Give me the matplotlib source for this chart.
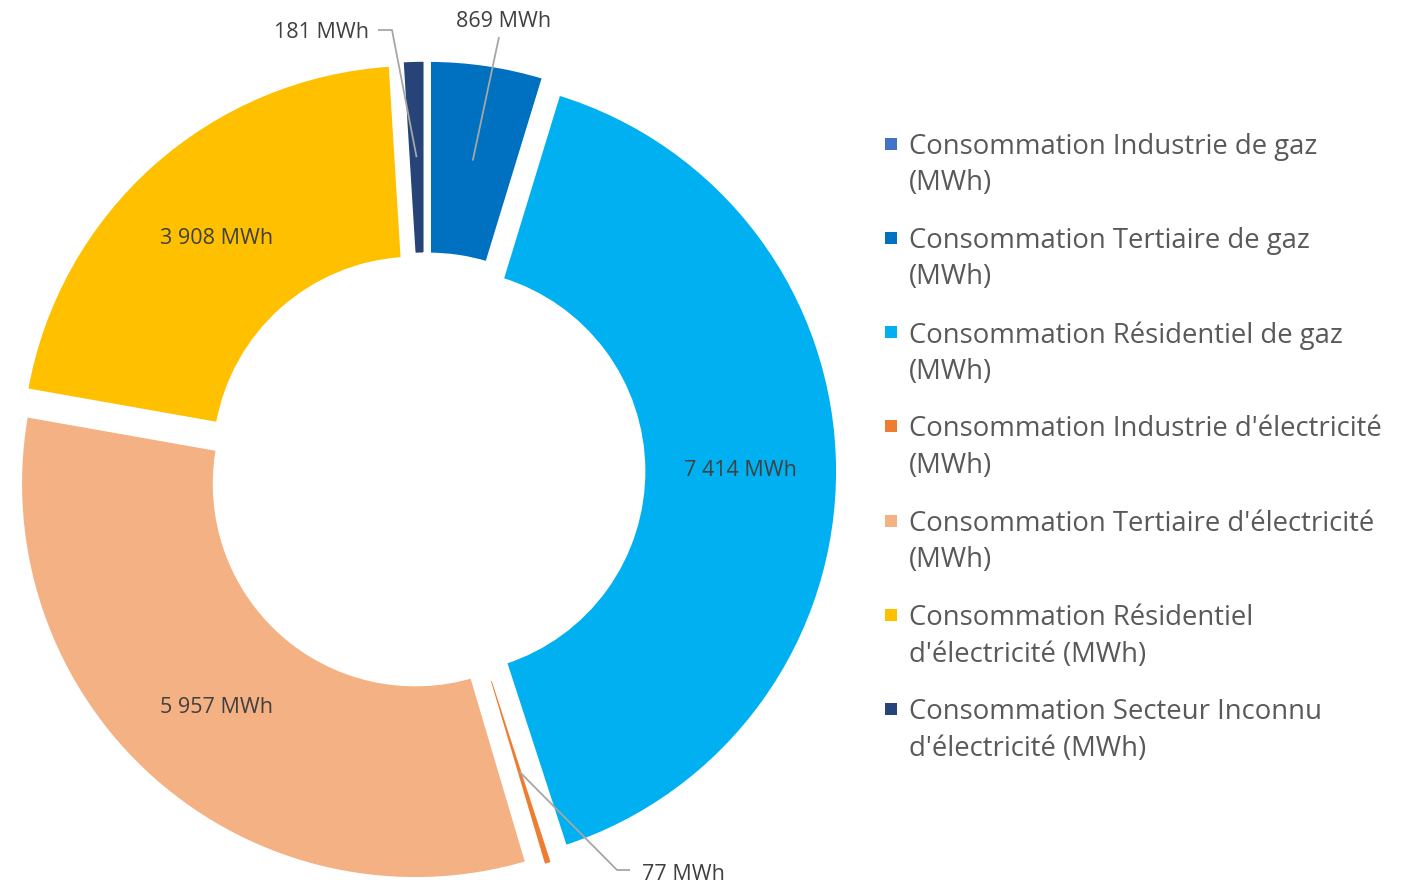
import matplotlib.pyplot as plt
import numpy as np

plt.rcParams['font.family'] = ['Open Sans', 'DejaVu Sans']

categories = [
    "Consommation Industrie de gaz\n(MWh)",
    "Consommation Tertiaire de gaz\n(MWh)",
    "Consommation Résidentiel de gaz\n(MWh)",
    "Consommation Industrie d'électricité\n(MWh)",
    "Consommation Tertiaire d'électricité\n(MWh)",
    "Consommation Résidentiel\nd'électricité (MWh)",
    "Consommation Secteur Inconnu\nd'électricité (MWh)",
]
values = [0, 869, 7414, 77, 5957, 3908, 181]
colors = ['#4472C4', '#0070C0', '#00B0F0', '#ED7D31', '#F4B183', '#FFC000', '#264478']

def fmt(v):
    return f"{v:,}".replace(",", " ") + " MWh"

W_PX, H_PX = 1414, 880
fig = plt.figure(figsize=(W_PX / 100, H_PX / 100), dpi=100)
ax = fig.add_axes([0, 0, 1, 1])

R = 395.5
R_IN = 200.3
CX, CY = 426.3, H_PX - 471.5
EXPL = 16.5
EDGE_PX = 4.5
wedges, _ = ax.pie(values, colors=colors, radius=R, center=(CX, CY), startangle=90,
                   counterclock=False, explode=[EXPL] * len(values),
                   wedgeprops=dict(width=R - R_IN, linewidth=EDGE_PX * 0.72,
                                   edgecolor='white'))
ax.set_xlim(0, W_PX)
ax.set_ylim(0, H_PX)
ax.set_aspect('equal')
ax.axis('off')

label_color = '#404040'
leader_color = '#A6A6A6'
label_fs = 15.5
R_MID = (R + R_IN) / 2

# outside labels: text position and leader path (pixel coords from top)
outside = {
    1: dict(text=(504, 21), path=[(499, 37)], ha='center'),
    6: dict(text=(369, 32), path=[(392, 30), (378, 30)], ha='right'),
    3: dict(text=(642, 874), path=[(617, 870), (630, 870)], ha='left'),
}

for i, (w, v) in enumerate(zip(wedges, values)):
    if v <= 0:
        continue
    th = np.deg2rad((w.theta1 + w.theta2) / 2)
    wx, wy = w.center
    ax_ = wx + R_MID * np.cos(th)
    ay_ = wy + R_MID * np.sin(th)
    if i in outside:
        o = outside[i]
        xs = [ax_] + [p[0] for p in o['path']]
        ys = [ay_] + [H_PX - p[1] for p in o['path']]
        ax.plot(xs, ys, color=leader_color, lw=1.3, solid_capstyle='butt')
        ax.text(o['text'][0], H_PX - o['text'][1], fmt(v), ha=o['ha'], va='center',
                fontsize=label_fs, color=label_color)
    else:
        ax.text(ax_, ay_ - 2, fmt(v), ha='center', va='center', fontsize=label_fs,
                color=label_color)

# legend
leg_y0 = 143.5
leg_step = 94.3
for i, (cat, col) in enumerate(zip(categories, colors)):
    y = H_PX - (leg_y0 + i * leg_step)
    ax.scatter([891], [y], marker='s', s=75, color=col, linewidths=0)
    ax.text(909, y + 11, cat, ha='left', va='top', fontsize=19.8, color='#595959',
            linespacing=1.41)

fig.savefig('out.png', dpi=100)
